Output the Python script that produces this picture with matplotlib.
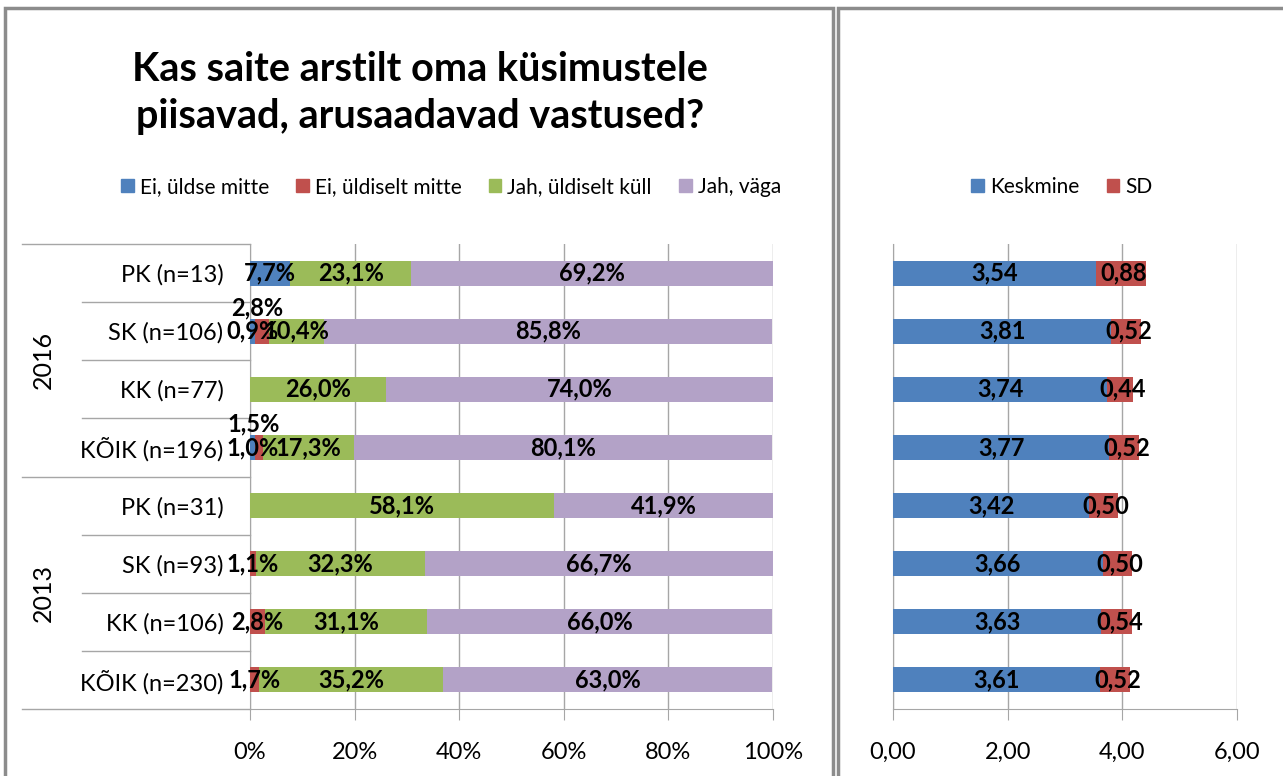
import matplotlib.pyplot as plt
import matplotlib.patches as mpatches
import numpy as np

plt.rcParams['font.family'] = ['Lato', 'DejaVu Sans']

# data
years = ['2016', '2013']
rows = ['PK (n=13)', 'SK (n=106)', 'KK (n=77)', 'KÕIK (n=196)',
        'PK (n=31)', 'SK (n=93)', 'KK (n=106)', 'KÕIK (n=230)']
series = ['Ei, üldse mitte', 'Ei, üldiselt mitte', 'Jah, üldiselt küll', 'Jah, väga']
ei_yldse = [7.7, 0.9, 0.0, 1.0, 0.0, 0.0, 0.0, 0.0]
ei_yldiselt = [0.0, 2.8, 0.0, 1.5, 0.0, 1.1, 2.8, 1.7]
jah_yldiselt = [23.1, 10.4, 26.0, 17.3, 58.1, 32.3, 31.1, 35.2]
jah_vaga = [69.2, 85.8, 74.0, 80.1, 41.9, 66.7, 66.0, 63.0]
keskmine = [3.54, 3.81, 3.74, 3.77, 3.42, 3.66, 3.63, 3.61]
sd = [0.88, 0.52, 0.44, 0.52, 0.50, 0.50, 0.54, 0.52]

colors = ['#4F81BD', '#C0504D', '#9BBB59', '#B3A2C7']
grid_c = '#A6A6A6'

def fmt(v, d=1):
    return f'{v:.{d}f}'.replace('.', ',')

W, H = 1283, 776
fig = plt.figure(figsize=(W / 100, H / 100), dpi=100)

# chart frames
fig.add_artist(mpatches.Rectangle((5 / W, -0.01), 828 / W, 1 - 8 / H + 0.01, transform=fig.transFigure,
                                  fill=False, edgecolor='#8C8C8C', lw=2.5))
fig.add_artist(mpatches.Rectangle((838 / W, -0.01), 460 / W, 1 - 8 / H + 0.01, transform=fig.transFigure,
                                  fill=False, edgecolor='#8C8C8C', lw=2.5))

ax = fig.add_axes([250 / W, 1 - 709 / H, 523 / W, 465 / H])
ax2 = fig.add_axes([893 / W, 1 - 709 / H, 344 / W, 465 / H])

y = np.arange(len(rows))
vals = [ei_yldse, ei_yldiselt, jah_yldiselt, jah_vaga]
left = np.zeros(len(rows))
for s, v, c in zip(series, vals, colors):
    v = np.array(v)
    ax.barh(y, v, left=left, height=0.43, color=c, label=s, zorder=3)
    for i in range(len(rows)):
        if v[i] <= 0:
            continue
        xc = left[i] + v[i] / 2
        yc = y[i]
        # Excel labels moved above the bar for tiny red segments in 2016
        if s == 'Ei, üldiselt mitte' and i in (1, 3):
            xc = left[i] + v[i] / 2 - 1.0
            yc = y[i] - 0.4
        ax.text(xc, yc, fmt(v[i]) + '%', ha='center', va='center', fontsize=17,
                fontweight='bold', color='black', zorder=5, clip_on=False)
    left += v

ax.set_xlim(0, 100)
ax.set_ylim(len(rows) - 0.5, -0.5)
ax.set_xticks([0, 20, 40, 60, 80, 100])
ax.set_xticklabels(['0%', '20%', '40%', '60%', '80%', '100%'])
ax.grid(axis='x', color=grid_c, lw=1, zorder=0)
for sp in ['top', 'right']:
    ax.spines[sp].set_visible(False)
ax.spines['left'].set_color(grid_c)
ax.spines['bottom'].set_color(grid_c)
ax.tick_params(axis='x', length=8, color=grid_c, labelsize=17, pad=16)
ax.set_yticks(y)
ax.set_yticklabels(rows, fontsize=17)
ax.tick_params(axis='y', length=0, pad=19)

# category separators (multi-level axis)
tr = ax.get_yaxis_transform()
for i in range(len(rows) + 1):
    yy = i - 0.5
    x0 = -0.436 if i in (0, 4, 8) else -0.321
    ax.plot([x0, 0], [yy, yy], transform=tr, color=grid_c, lw=1, clip_on=False)
for k, yr in enumerate(years):
    ax.text(-0.395, 4 * k + 1.5, yr, transform=tr, rotation=90, ha='center', va='center', fontsize=18)

# right chart
ax2.barh(y, keskmine, height=0.43, color=colors[0], label='Keskmine', zorder=3)
ax2.barh(y, sd, left=keskmine, height=0.43, color=colors[1], label='SD', zorder=3)
for i in range(len(rows)):
    ax2.text(keskmine[i] / 2, y[i], fmt(keskmine[i], 2), ha='center', va='center',
             fontsize=17, fontweight='bold', zorder=5)
    ax2.text(keskmine[i] + sd[i] / 2 + 0.05, y[i], fmt(sd[i], 2), ha='center', va='center',
             fontsize=17, fontweight='bold', zorder=5)
ax2.set_xlim(0, 6)
ax2.set_ylim(len(rows) - 0.5, -0.5)
ax2.set_xticks([0, 2, 4, 6])
ax2.set_xticklabels([fmt(t, 2) for t in [0, 2, 4, 6]])
ax2.grid(axis='x', color=grid_c, lw=1, zorder=0)
for sp in ['top', 'right']:
    ax2.spines[sp].set_visible(False)
ax2.spines['left'].set_color(grid_c)
ax2.spines['bottom'].set_color(grid_c)
ax2.tick_params(axis='x', length=8, color=grid_c, labelsize=17, pad=16)
ax2.set_yticks([])

# title
fig.text(420 / W, 1 - 93 / H, 'Kas saite arstilt oma küsimustele\npiisavad, arusaadavad vastused?',
         ha='center', va='center', fontsize=28.5, fontweight='bold', linespacing=1.35)

# legends
h1 = [mpatches.Patch(color=c) for c in colors]
fig.legend(h1, series, loc='center', bbox_to_anchor=(451 / W, 1 - 187 / H), ncol=4, frameon=False,
           fontsize=15, handlelength=0.6, handleheight=0.6, handletextpad=0.3, columnspacing=1.3)
h2 = [mpatches.Patch(color=colors[0]), mpatches.Patch(color=colors[1])]
fig.legend(h2, ['Keskmine', 'SD'], loc='center', bbox_to_anchor=(1062 / W, 1 - 187 / H), ncol=2,
           frameon=False, fontsize=15, handlelength=0.6, handleheight=0.6, handletextpad=0.3,
           columnspacing=1.3)

fig.savefig('out.png', dpi=100)
